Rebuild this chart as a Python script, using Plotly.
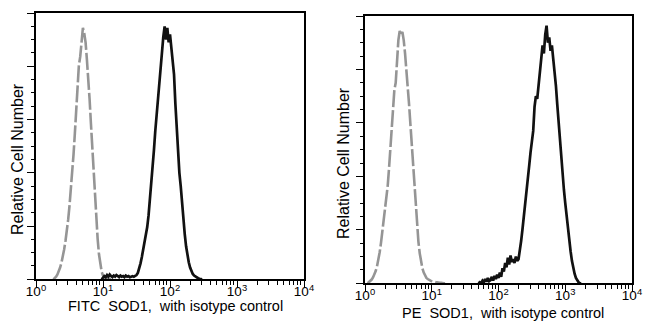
import numpy as np
import plotly.graph_objects as go

# Log-decade channel grid: each series is listed from its first channel, 0.02 decades apart
STEP = 0.02

# FITC panel
fitc_iso_start = 0.26
fitc_iso = [0, 0.02, 0.05, 0.09, 0.15, 0.22, 0.31, 0.42, 0.56, 0.72,
            0.90, 1.12, 1.38, 1.66, 1.98, 2.34, 2.74, 3.15, 3.62, 4.02,
            4.18, 4.50, 4.72, 4.62, 4.45, 4.12, 3.82, 3.38, 2.92, 2.46,
            1.96, 1.52, 1.12, 0.76, 0.47, 0.27, 0.14, 0.07, 0.04, 0.02,
            0.01, 0.01, 0, 0]

fitc_sod1_start = 0.98
fitc_sod1 = [0, 0.03, 0.06, 0.04, 0.08, 0.05, 0.09, 0.06, 0.04, 0.07,
             0.05, 0.08, 0.06, 0.04, 0.07, 0.05, 0.06, 0.04, 0.07, 0.05,
             0.06, 0.04, 0.05, 0.06, 0.05, 0.07,
             0.08, 0.12, 0.20, 0.30, 0.42, 0.55, 0.68, 0.82, 0.98, 1.20,
             1.48, 1.78, 2.10, 2.42, 2.78, 3.10, 3.40, 3.70, 4.00, 4.30,
             4.55, 4.75, 4.50, 4.72, 4.45, 4.60, 4.30, 4.10, 3.85, 3.30,
             2.80, 2.35, 2.00, 1.75, 1.40, 1.10, 0.85, 0.62, 0.45, 0.32,
             0.22, 0.15, 0.10, 0.07, 0.05, 0.04, 0.02, 0.01, 0, 0]

# PE panel
pe_iso_start = 0.04
pe_iso = [0, 0.02, 0.04, 0.07, 0.11, 0.16, 0.23, 0.32, 0.43, 0.58,
          0.76, 0.96, 1.15, 1.32, 1.52, 1.82, 2.15, 2.48, 2.82, 3.25,
          3.62, 3.75, 4.15, 4.55, 4.72, 4.66, 4.70, 4.55, 4.30, 4.02,
          3.70, 3.35, 2.98, 2.62, 2.22, 1.78, 1.38, 1.06, 0.78, 0.56,
          0.40, 0.28, 0.20, 0.14, 0.10, 0.08, 0.06, 0.05, 0.04, 0.03,
          0.03, 0.02, 0.02, 0.01, 0.01, 0.01, 0, 0, 0]

pe_sod1_start = 1.70
pe_sod1 = [0, 0.02, 0, 0.05, 0.02, 0.08, 0.03, 0.10, 0.04, 0.06,
           0.12, 0.05, 0.14, 0.08, 0.16, 0.10, 0.20, 0.12, 0.28, 0.22,
           0.38, 0.30, 0.48, 0.35, 0.52, 0.40, 0.45, 0.38, 0.50, 0.42,
           0.45, 0.60, 0.80, 1.02, 1.25, 1.45, 1.62, 1.90, 2.20, 2.45,
           2.62, 2.85, 3.30, 3.50, 3.45, 3.75, 4.00, 4.20, 4.45, 4.30,
           4.65, 4.82, 4.50, 4.60, 4.35, 4.45, 4.20, 4.00, 3.70, 3.35,
           3.00, 2.75, 2.40, 2.05, 1.75, 1.50, 1.25, 1.00, 0.78, 0.60,
           0.42, 0.28, 0.18, 0.10, 0.05, 0.02, 0, 0]

DECADES = [1, 10, 100, 1000, 10000]
DECADE_LABELS = ["10<sup>0</sup>", "10<sup>1</sup>", "10<sup>2</sup>",
                 "10<sup>3</sup>", "10<sup>4</sup>"]
X_TITLES = ["FITC\u00a0 SOD1,\u00a0 with isotype control",
            "PE\u00a0 SOD1,\u00a0 with isotype control"]
Y_TITLE = "Relative Cell Number"

ISO_COLOR = "#959595"
SOD_COLOR = "#111111"
FONT = "Liberation Sans, Arial, sans-serif"


def channels(start, values):
    return 10 ** (start + STEP * np.arange(len(values)))


fig = go.Figure()
panels = [
    ("x", "y", fitc_iso_start, fitc_iso, fitc_sod1_start, fitc_sod1),
    ("x2", "y2", pe_iso_start, pe_iso, pe_sod1_start, pe_sod1),
]
for xa, ya, s_iso, v_iso, s_sod, v_sod in panels:
    fig.add_trace(go.Scatter(x=channels(s_iso, v_iso), y=v_iso, xaxis=xa, yaxis=ya,
                             mode="lines", line=dict(color=ISO_COLOR, width=2.6, dash="17px,3px"),
                             showlegend=False))
    fig.add_trace(go.Scatter(x=channels(s_sod, v_sod), y=v_sod, xaxis=xa, yaxis=ya,
                             mode="lines", line=dict(color=SOD_COLOR, width=2.7),
                             showlegend=False))

minor_vals = [m * d for d in [1, 10, 100, 1000] for m in range(2, 10)]

xcommon = dict(type="log", range=[0, 4], tickvals=DECADES, ticktext=DECADE_LABELS,
               ticks="outside", ticklen=7, tickwidth=1.3, tickcolor="black",
               ticklabelstandoff=-8, automargin=False,
               showline=True, linecolor="black", linewidth=1.6, mirror=True,
               showgrid=False, zeroline=False,
               tickfont=dict(family=FONT, size=13.5, color="black"),
               minor=dict(tickvals=minor_vals, ticks="outside", ticklen=3.5,
                          tickwidth=1, tickcolor="black", showgrid=False))
ycommon = dict(range=[0, 5], tickvals=[0, 1, 2, 3, 4, 5], showticklabels=False,
               ticks="outside", ticklen=7, tickwidth=1.3, tickcolor="black",
               automargin=False,
               showline=True, linecolor="black", linewidth=1.6, mirror=True,
               showgrid=False, zeroline=False,
               minor=dict(dtick=0.25, ticks="outside", ticklen=3.5,
                          tickwidth=1, tickcolor="black", showgrid=False))

W, H = 650, 335
fig.update_layout(
    width=W, height=H, margin=dict(l=0, r=0, t=0, b=0, autoexpand=False),
    paper_bgcolor="white", plot_bgcolor="white",
    xaxis=dict(domain=[36 / W, 304 / W], anchor="y", **xcommon),
    yaxis=dict(domain=[1 - 279.3 / H, 1 - 13 / H], anchor="x", **ycommon),
    xaxis2=dict(domain=[365 / W, 632 / W], anchor="y2", **xcommon),
    yaxis2=dict(domain=[1 - 283.3 / H, 1 - 16 / H], anchor="x2", **ycommon),
    font=dict(family=FONT, color="black"),
)

# Axis titles
fig.add_annotation(text=X_TITLES[0], x=175 / W, y=1 - 306 / H, xref="paper", yref="paper",
                   showarrow=False, font=dict(family=FONT, size=14.5, color="black"),
                   xanchor="center", yanchor="middle")
fig.add_annotation(text=X_TITLES[1], x=503 / W, y=1 - 312.5 / H, xref="paper", yref="paper",
                   showarrow=False, font=dict(family=FONT, size=14.5, color="black"),
                   xanchor="center", yanchor="middle")
fig.add_annotation(text=Y_TITLE, x=17 / W, y=1 - 159 / H, xref="paper", yref="paper",
                   showarrow=False, textangle=-90, font=dict(family=FONT, size=16, color="black"),
                   xanchor="center", yanchor="middle")
fig.add_annotation(text=Y_TITLE, x=343 / W, y=1 - 163 / H, xref="paper", yref="paper",
                   showarrow=False, textangle=-90, font=dict(family=FONT, size=16, color="black"),
                   xanchor="center", yanchor="middle")

fig.write_html("out.html")
